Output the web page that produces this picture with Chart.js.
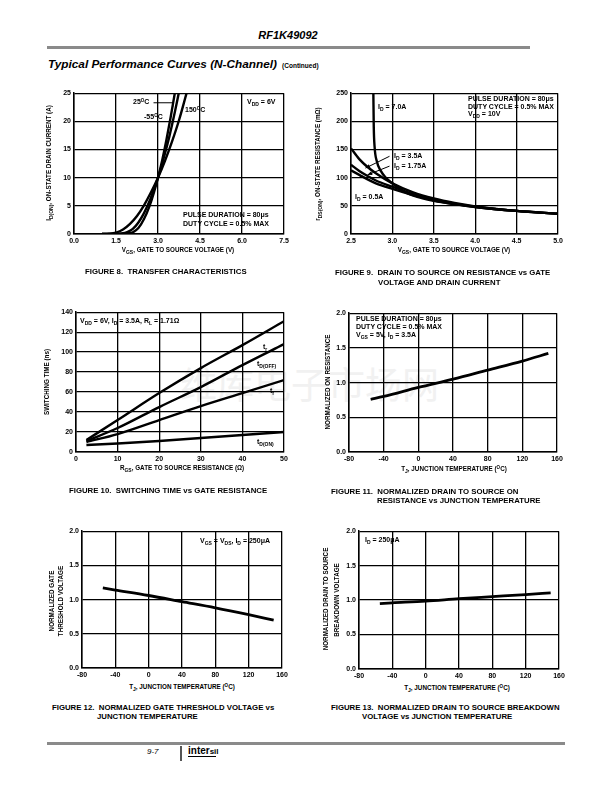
<!DOCTYPE html>
<html>
<head>
<meta charset="utf-8">
<script src="https://cdn.jsdelivr.net/npm/chart.js@4.4.0/dist/chart.umd.min.js"></script>
<style>
body{margin:0;background:#fff;width:612px;height:792px;position:relative;overflow:hidden;font-family:"Liberation Sans",Arial,sans-serif;color:#000;}
canvas{position:absolute;}
.t{position:absolute;font-weight:bold;font-size:7px;line-height:8px;white-space:nowrap;transform:translateY(-50%);color:#000;}
.c{transform:translate(-50%,-50%);}
.r{transform:translate(-50%,-50%) rotate(-90deg);}
.cap{font-size:7.8px;}
.ax{font-size:6.3px;}
sub{font-size:5px;vertical-align:-1.5px;line-height:0;}
sup{font-size:4.5px;vertical-align:2.5px;line-height:0;}
.rule{position:absolute;background:#8a8a8a;}
.wm{position:absolute;font-family:"Noto Sans CJK SC",sans-serif;font-size:37px;color:#f1f1f1;white-space:nowrap;transform:translateY(-50%);}
</style>
</head>
<body>
<div class="wm" style="left:180px;top:383px;">维库电子市场网</div>

<div class="t c" style="left:288px;top:35px;font-size:11px;font-style:italic;">RF1K49092</div>
<div class="rule" style="left:47px;top:46px;width:483px;height:2.5px;"></div>
<div class="t" style="left:48px;top:65px;font-size:11.8px;font-style:italic;">Typical Performance Curves (N-Channel) <span style="font-size:6.5px;font-style:normal;color:#000;">&nbsp;(Continued)</span></div>

<canvas id="fig8"></canvas>
<canvas id="fig9"></canvas>
<canvas id="fig10"></canvas>
<canvas id="fig11"></canvas>
<canvas id="fig12"></canvas>
<canvas id="fig13"></canvas>

<!-- figure 8 -->
<div class="t" style="left:133px;top:102px;">25<sup>O</sup>C</div>
<div class="t" style="left:144px;top:117px;">-55<sup>O</sup>C</div>
<div class="t" style="left:185px;top:110px;">150<sup>O</sup>C</div>
<div class="t" style="left:247px;top:102px;">V<sub>DD</sub> = 6V</div>
<div class="t" style="left:183px;top:215px;">PULSE DURATION = 80&mu;s</div>
<div class="t" style="left:183px;top:224px;">DUTY CYCLE = 0.5% MAX</div>
<div class="t r ax" style="left:49px;top:163px;">I<sub>D(ON)</sub>, ON-STATE DRAIN CURRENT (A)</div>
<div class="t c ax" style="left:178px;top:250px;">V<sub>GS</sub>, GATE TO SOURCE VOLTAGE (V)</div>
<div class="t cap" style="left:85px;top:272px;">FIGURE 8.&nbsp; TRANSFER CHARACTERISTICS</div>

<!-- figure 9 -->
<div class="t" style="left:378px;top:107px;">I<sub>D</sub> = 7.0A</div>
<div class="t" style="left:468px;top:99px;">PULSE DURATION = 80&mu;s</div>
<div class="t" style="left:468px;top:107px;">DUTY CYCLE = 0.5% MAX</div>
<div class="t" style="left:468px;top:114px;">V<sub>DD</sub> = 10V</div>
<div class="t" style="left:394px;top:156px;">I<sub>D</sub> = 3.5A</div>
<div class="t" style="left:394px;top:166px;">I<sub>D</sub> = 1.75A</div>
<div class="t" style="left:355px;top:197px;">I<sub>D</sub> = 0.5A</div>
<div class="t r ax" style="left:318px;top:164px;">r<sub>DS(ON)</sub>, ON-STATE RESISTANCE (m&Omega;)</div>
<div class="t c ax" style="left:454px;top:250px;">V<sub>GS</sub>, GATE TO SOURCE VOLTAGE (V)</div>
<div class="t cap" style="left:335px;top:273px;">FIGURE 9.&nbsp; DRAIN TO SOURCE ON RESISTANCE vs GATE</div>
<div class="t cap" style="left:378px;top:283px;">VOLTAGE AND DRAIN CURRENT</div>

<!-- figure 10 -->
<div class="t" style="left:80px;top:321px;">V<sub>DD</sub> = 6V, I<sub>D</sub> = 3.5A, R<sub>L</sub> = 1.71&Omega;</div>
<div class="t" style="left:263px;top:347px;">t<sub>r</sub></div>
<div class="t" style="left:257px;top:364px;">t<sub>D(OFF)</sub></div>
<div class="t" style="left:270px;top:391px;">t<sub>f</sub></div>
<div class="t" style="left:257px;top:442px;">t<sub>D(ON)</sub></div>
<div class="t r ax" style="left:47px;top:382px;">SWITCHING TIME (ns)</div>
<div class="t c ax" style="left:182px;top:468px;">R<sub>GS</sub>, GATE TO SOURCE RESISTANCE (&Omega;)</div>
<div class="t cap" style="left:69px;top:491px;">FIGURE 10.&nbsp; SWITCHING TIME vs GATE RESISTANCE</div>

<!-- figure 11 -->
<div class="t" style="left:356px;top:319px;">PULSE DURATION = 80&mu;s</div>
<div class="t" style="left:356px;top:327px;">DUTY CYCLE = 0.5% MAX</div>
<div class="t" style="left:356px;top:335px;">V<sub>GS</sub> = 5V, I<sub>D</sub> = 3.5A</div>
<div class="t r ax" style="left:328px;top:382px;">NORMALIZED ON RESISTANCE</div>
<div class="t c ax" style="left:454px;top:469px;">T<sub>J</sub>, JUNCTION TEMPERATURE (<sup>O</sup>C)</div>
<div class="t cap" style="left:331px;top:492px;">FIGURE 11.&nbsp; NORMALIZED DRAIN TO SOURCE ON</div>
<div class="t cap" style="left:377px;top:501px;">RESISTANCE vs JUNCTION TEMPERATURE</div>

<!-- figure 12 -->
<div class="t" style="left:200px;top:541px;">V<sub>GS</sub> = V<sub>DS</sub>, I<sub>D</sub> = 250&mu;A</div>
<div class="t r ax" style="left:52px;top:601px;">NORMALIZED GATE</div>
<div class="t r ax" style="left:61px;top:601px;">THRESHOLD VOLTAGE</div>
<div class="t c ax" style="left:182px;top:687px;">T<sub>J</sub>, JUNCTION TEMPERATURE (<sup>O</sup>C)</div>
<div class="t cap" style="left:52px;top:708px;">FIGURE 12.&nbsp; NORMALIZED GATE THRESHOLD VOLTAGE vs</div>
<div class="t cap" style="left:97px;top:717px;">JUNCTION TEMPERATURE</div>

<!-- figure 13 -->
<div class="t" style="left:365px;top:540px;">I<sub>D</sub> = 250&mu;A</div>
<div class="t r ax" style="left:326px;top:599px;">NORMALIZED DRAIN TO SOURCE</div>
<div class="t r ax" style="left:337px;top:600px;">BREAKDOWN VOLTAGE</div>
<div class="t c ax" style="left:457px;top:688px;">T<sub>J</sub>, JUNCTION TEMPERATURE (<sup>O</sup>C)</div>
<div class="t cap" style="left:331px;top:708px;">FIGURE 13.&nbsp; NORMALIZED DRAIN TO SOURCE BREAKDOWN</div>
<div class="t cap" style="left:362px;top:717px;">VOLTAGE vs JUNCTION TEMPERATURE</div>

<!-- footer -->
<div class="rule" style="left:47px;top:742px;width:518px;height:2.5px;"></div>
<div class="t" style="left:147px;top:752px;font-size:8px;font-weight:normal;font-style:italic;">9-7</div>
<div class="rule" style="left:180px;top:746px;width:1.5px;height:15px;background:#555;"></div>
<div class="t" style="left:188px;top:751px;font-size:10px;">inter<span style="font-size:8px;">sil</span></div>
<div class="rule" style="left:188px;top:756px;width:28px;height:1px;background:#000;"></div>

<script>
// ---- figure 8: transfer characteristics
const f8Vgs150 = [1.0, 1.25, 1.5, 1.75, 2.0, 2.25, 2.5, 2.75, 3.0, 3.25, 3.5, 3.75, 4.02];
const f8Id150  = [0, 0.05, 0.25, 0.8, 1.8, 3.2, 5.1, 7.4, 10, 13, 16.4, 20.2, 25];
const f8Vgs25  = [1.0, 1.4, 1.7, 1.9, 2.1, 2.3, 2.5, 2.75, 3.0, 3.2, 3.4, 3.6, 3.74];
const f8Id25   = [0, 0.03, 0.12, 0.35, 0.9, 2.05, 3.7, 6.5, 10, 13.4, 17.2, 21.6, 25];
const f8VgsM55 = [1.0, 1.6, 1.9, 2.1, 2.3, 2.5, 2.7, 2.85, 3.0, 3.15, 3.3, 3.45, 3.6];
const f8IdM55  = [0, 0.03, 0.12, 0.3, 1.05, 2.65, 5.0, 7.3, 10, 13.1, 16.7, 20.7, 25];
const f8XTicks = [0, 1.5, 3, 4.5, 6, 7.5];
const f8XLabels = ['0.0', '1.5', '3.0', '4.5', '6.0', '7.5'];
const f8YTicks = [0, 5, 10, 15, 20, 25];
const f8YLabels = ['0', '5', '10', '15', '20', '25'];

// ---- figure 9: on resistance vs gate voltage
const f9Vgs7   = [2.77, 2.775, 2.785, 2.81, 2.86, 2.92, 3.0, 3.12, 3.3, 3.5, 3.75, 4.0, 4.5, 5.0];
const f9R7     = [250, 190, 155, 130, 112, 100, 90, 77, 66, 59, 53, 48, 41, 36];
const f9Vgs    = [2.5, 2.6, 2.7, 2.8, 3.0, 3.25, 3.5, 3.75, 4.0, 4.5, 5.0];
const f9R35    = [152, 133, 119, 108, 90, 74, 63, 55, 49, 41, 36];
const f9R175   = [123, 112, 103, 95, 84, 71, 61, 54, 48.5, 41, 36];
const f9R05    = [113, 105, 97, 90, 80, 69, 60, 53, 48, 41, 36];
const f9XTicks = [2.5, 3, 3.5, 4, 4.5, 5];
const f9XLabels = ['2.5', '3.0', '3.5', '4.0', '4.5', '5.0'];
const f9YTicks = [0, 50, 100, 150, 200, 250];
const f9YLabels = ['0', '50', '100', '150', '200', '250'];

// ---- figure 10: switching time vs gate resistance
const f10Rgs   = [2.5, 10, 20, 30, 40, 50];
const f10Tr    = [12, 32, 59, 84, 107, 131];
const f10Tdoff = [11, 24, 45, 65, 87, 108];
const f10Tf    = [10, 18, 32, 46, 59, 72];
const f10Tdon  = [7, 8.5, 11, 14, 17, 20];
const f10XTicks = [0, 10, 20, 30, 40, 50];
const f10XLabels = ['0', '10', '20', '30', '40', '50'];
const f10YTicks = [0, 20, 40, 60, 80, 100, 120, 140];
const f10YLabels = ['0', '20', '40', '60', '80', '100', '120', '140'];

// ---- figures 11-13: normalized vs junction temperature
const tj = [-55, -40, 0, 40, 80, 120, 150];
const f11Ron = [0.76, 0.80, 0.93, 1.05, 1.18, 1.31, 1.42];
const f12Vth = [1.17, 1.14, 1.06, 0.97, 0.88, 0.78, 0.70];
const f13Bv  = [0.95, 0.96, 0.985, 1.02, 1.05, 1.08, 1.105];
const tjTicks = [-80, -40, 0, 40, 80, 120, 160];
const tjLabels = ['-80', '-40', '0', '40', '80', '120', '160'];
const normTicks = [0, 0.5, 1, 1.5, 2];
const normLabels = ['0.0', '0.5', '1.0', '1.5', '2.0'];

const BLACK = '#000';
const tickFont = { family: '"Liberation Sans", Arial, sans-serif', size: 7, weight: 'bold' };

function axis(ticks, labels, fit) {
    return {
        type: 'linear',
        min: ticks[0],
        max: ticks[ticks.length - 1],
        afterBuildTicks: s => { s.ticks = ticks.map(v => ({ value: v })); },
        afterFit: fit,
        ticks: { callback: (v, i) => labels[i], font: tickFont, color: BLACK, padding: 3, autoSkip: false, maxRotation: 0 },
        grid: { color: BLACK, lineWidth: 1.3, drawTicks: false },
        border: { color: BLACK, width: 1.5 }
    };
}

// box = plot area in page pixels
function makePlot(id, box, xt, xl, yt, yl, series, lw, extra) {
    const YW = 26, XH = 13, PT = 6, PR = 12;
    const cv = document.getElementById(id);
    cv.width = box.r - box.l + YW + PR;
    cv.height = box.b - box.t + PT + XH;
    cv.style.left = (box.l - YW) + 'px';
    cv.style.top = (box.t - PT) + 'px';

    new Chart(cv, {
        type: 'scatter',
        data: {
            datasets: series.map(s => ({
                data: s.x.map((v, i) => ({ x: v, y: s.y[i] })),
                showLine: true,
                borderColor: BLACK,
                borderWidth: lw,
                pointRadius: 0,
                cubicInterpolationMode: 'monotone',
                fill: false
            }))
        },
        options: {
            responsive: false,
            animation: false,
            events: [],
            layout: { padding: { top: PT, right: PR, left: 0, bottom: 0 } },
            plugins: { legend: { display: false }, tooltip: { enabled: false } },
            scales: {
                x: axis(xt, xl, s => { s.height = XH; }),
                y: axis(yt, yl, s => { s.width = YW; })
            }
        },
        plugins: extra ? [extra] : []
    });
}

// leader / arrow lines, given in data units
function pointers(list) {
    return {
        id: 'pointers',
        afterDatasetsDraw(chart) {
            const { ctx, scales: { x, y } } = chart;
            ctx.save();
            ctx.strokeStyle = BLACK;
            ctx.fillStyle = BLACK;
            ctx.lineWidth = 1;
            list.forEach(p => {
                const pts = p.pts.map(q => [x.getPixelForValue(q[0]), y.getPixelForValue(q[1])]);
                ctx.beginPath();
                pts.forEach((q, i) => i ? ctx.lineTo(q[0], q[1]) : ctx.moveTo(q[0], q[1]));
                ctx.stroke();
                if (p.arrow) {
                    const a = pts[pts.length - 2], b = pts[pts.length - 1];
                    const ang = Math.atan2(b[1] - a[1], b[0] - a[0]);
                    ctx.beginPath();
                    ctx.moveTo(b[0], b[1]);
                    ctx.lineTo(b[0] - 5 * Math.cos(ang - 0.4), b[1] - 5 * Math.sin(ang - 0.4));
                    ctx.lineTo(b[0] - 5 * Math.cos(ang + 0.4), b[1] - 5 * Math.sin(ang + 0.4));
                    ctx.closePath();
                    ctx.fill();
                }
            });
            ctx.restore();
        }
    };
}

makePlot('fig8', { l: 74, t: 92, r: 284, b: 234 }, f8XTicks, f8XLabels, f8YTicks, f8YLabels, [
    { x: f8Vgs150, y: f8Id150 },
    { x: f8Vgs25, y: f8Id25 },
    { x: f8VgsM55, y: f8IdM55 }
], 2.4, pointers([{ pts: [[2.84, 23.3], [3.53, 23.3], [3.53, 22.6]] }]));

makePlot('fig9', { l: 351, t: 92, r: 558, b: 234 }, f9XTicks, f9XLabels, f9YTicks, f9YLabels, [
    { x: f9Vgs7, y: f9R7 },
    { x: f9Vgs, y: f9R35 },
    { x: f9Vgs, y: f9R175 },
    { x: f9Vgs, y: f9R05 }
], 2.4, pointers([
    { pts: [[2.965, 138], [2.675, 117]], arrow: true },
    { pts: [[2.965, 120.5], [2.70, 105]], arrow: true }
]));

makePlot('fig10', { l: 76, t: 311, r: 284, b: 452 }, f10XTicks, f10XLabels, f10YTicks, f10YLabels, [
    { x: f10Rgs, y: f10Tr },
    { x: f10Rgs, y: f10Tdoff },
    { x: f10Rgs, y: f10Tf },
    { x: f10Rgs, y: f10Tdon }
], 2.4);

makePlot('fig11', { l: 349, t: 312, r: 557, b: 452 }, tjTicks, tjLabels, normTicks, normLabels, [
    { x: tj, y: f11Ron }
], 2.8);

makePlot('fig12', { l: 82, t: 530, r: 282, b: 668 }, tjTicks, tjLabels, normTicks, normLabels, [
    { x: tj, y: f12Vth }
], 2.8);

makePlot('fig13', { l: 359, t: 530, r: 559, b: 669 }, tjTicks, tjLabels, normTicks, normLabels, [
    { x: tj, y: f13Bv }
], 2.8);
</script>
</body>
</html>
